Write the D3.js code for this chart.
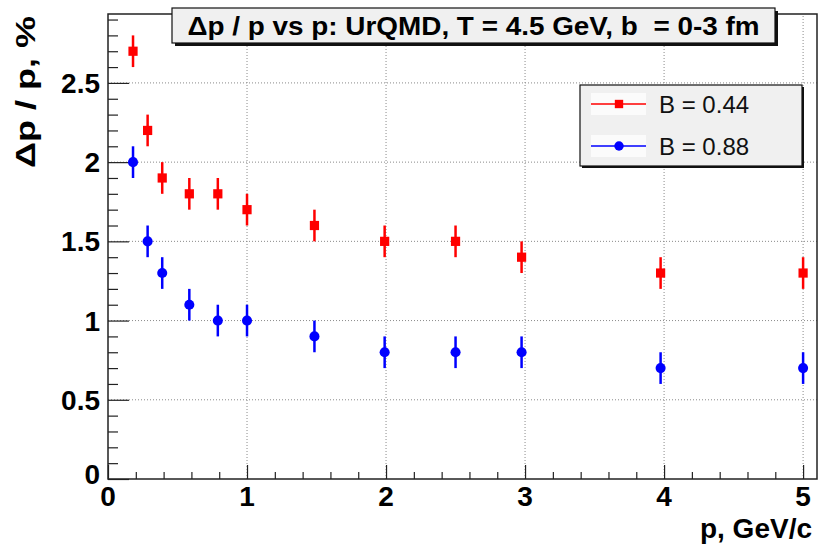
<!DOCTYPE html>
<html>
<head>
<meta charset="utf-8">
<script src="https://cdn.jsdelivr.net/npm/d3@7"></script>
<style>
  html, body { margin: 0; padding: 0; background: #fff; }
  svg { display: block; font-family: "Liberation Sans", Arial, Helvetica, sans-serif; }
  text { white-space: pre; }
</style>
</head>
<body>
<svg id="chart" width="819" height="546"></svg>
<script>
// Momentum points, GeV/c
const momentum = [0.18, 0.285, 0.39, 0.585, 0.79, 1.0, 1.485, 1.99, 2.5, 2.975, 3.975, 5.0];
// Relative momentum resolution, %
const resB044 = [2.7, 2.2, 1.9, 1.8, 1.8, 1.7, 1.6, 1.5, 1.5, 1.4, 1.3, 1.3];
const resB088 = [2.0, 1.5, 1.3, 1.1, 1.0, 1.0, 0.9, 0.8, 0.8, 0.8, 0.7, 0.7];
const errB044 = [0.1, 0.1, 0.1, 0.1, 0.1, 0.1, 0.1, 0.1, 0.1, 0.1, 0.1, 0.1];
const errB088 = [0.1, 0.1, 0.1, 0.1, 0.1, 0.1, 0.1, 0.1, 0.1, 0.1, 0.1, 0.1];
const seriesNames = ["B = 0.44", "B = 0.88"];
const xTickLabels = ["0", "1", "2", "3", "4", "5"];
const yTickLabels = ["0", "0.5", "1", "1.5", "2", "2.5"];
const titleText = "\u0394p / p vs p: UrQMD, T = 4.5 GeV, b  = 0-3 fm";
const xTitle = "p, GeV/c";
const yTitle = "\u0394p / p, %";

const series = [
  { name: seriesNames[0], values: resB044, errors: errB044, color: "#ff0000", marker: "square" },
  { name: seriesNames[1], values: resB088, errors: errB088, color: "#0000ff", marker: "circle" }
];

const svg = d3.select("#chart");
const frame = { left: 108, right: 817, top: 14, bottom: 479 };

const x = d3.scaleLinear().domain([0, 5.1]).range([frame.left, frame.right]);
const y = d3.scaleLinear().domain([0, 2.935]).range([frame.bottom, frame.top]);

const xMajor = xTickLabels.map(Number);
const yMajor = yTickLabels.map(Number);
const xMinor = d3.range(0, 5.1001, 0.2).filter(v => !xMajor.some(m => Math.abs(m - v) < 1e-6));
const yMinor = d3.range(0, 2.9351, 0.1).filter(v => !yMajor.some(m => Math.abs(m - v) < 1e-6));

// dotted grid at the major ticks
const grid = svg.append("g").attr("stroke", "#8a8a8a").attr("stroke-width", 1)
  .attr("stroke-dasharray", "1,2");
grid.selectAll(".gx").data(xMajor.filter(v => v > 0)).join("line")
  .attr("x1", d => x(d)).attr("x2", d => x(d))
  .attr("y1", frame.bottom).attr("y2", frame.top);
grid.selectAll(".gy").data(yMajor.filter(v => v > 0)).join("line")
  .attr("x1", frame.left).attr("x2", frame.right)
  .attr("y1", d => y(d)).attr("y2", d => y(d));

// axes with inward ticks
const xLenMaj = 14, xLenMin = 7, yLenMaj = 21, yLenMin = 10;
const xAxisG = svg.append("g").attr("transform", `translate(0,${frame.bottom})`)
  .call(d3.axisTop(x).tickValues(xMajor).tickSize(xLenMaj).tickFormat(""));
const xMinorG = svg.append("g").attr("transform", `translate(0,${frame.bottom})`)
  .call(d3.axisTop(x).tickValues(xMinor).tickSize(xLenMin).tickFormat(""));
const yAxisG = svg.append("g").attr("transform", `translate(${frame.left},0)`)
  .call(d3.axisRight(y).tickValues(yMajor).tickSize(yLenMaj).tickFormat(""));
const yMinorG = svg.append("g").attr("transform", `translate(${frame.left},0)`)
  .call(d3.axisRight(y).tickValues(yMinor).tickSize(yLenMin).tickFormat(""));
[xAxisG, xMinorG, yAxisG, yMinorG].forEach(g => {
  g.select(".domain").remove();
  g.selectAll("line").attr("stroke", "#222").attr("stroke-width", 1.2);
});

// frame
svg.append("rect")
  .attr("x", frame.left).attr("y", frame.top)
  .attr("width", frame.right - frame.left).attr("height", frame.bottom - frame.top)
  .attr("fill", "none").attr("stroke", "#222").attr("stroke-width", 1.5);

// tick labels
svg.append("g").selectAll("text").data(xTickLabels).join("text")
  .attr("x", d => x(+d)).attr("y", 506)
  .attr("text-anchor", "middle").attr("font-weight", "bold").attr("font-size", 28)
  .attr("fill", "#000").text(d => d);
svg.append("g").selectAll("text").data(yTickLabels).join("text")
  .attr("x", 100).attr("y", d => +d === 0 ? y(+d) + 5 : y(+d) + 10)
  .attr("text-anchor", "end").attr("font-weight", "bold").attr("font-size", 28)
  .attr("fill", "#000").text(d => d);

// axis titles
svg.append("text")
  .attr("x", 812).attr("y", 538)
  .attr("text-anchor", "end").attr("font-weight", "bold").attr("font-size", 28)
  .text(xTitle);
svg.append("text")
  .attr("transform", "translate(35,16) rotate(-90)")
  .attr("text-anchor", "end").attr("font-weight", "bold").attr("font-size", 27)
  .attr("textLength", 152).attr("lengthAdjust", "spacingAndGlyphs")
  .text(yTitle);

// data: error bars and markers
const plot = svg.append("g");
series.forEach(s => {
  const g = plot.append("g");
  g.selectAll("line").data(s.values).join("line")
    .attr("x1", (d, i) => x(momentum[i])).attr("x2", (d, i) => x(momentum[i]))
    .attr("y1", (d, i) => y(d - s.errors[i])).attr("y2", (d, i) => y(d + s.errors[i]))
    .attr("stroke", s.color).attr("stroke-width", 2.5);
  const sym = d3.symbol().type(s.marker === "square" ? d3.symbolSquare : d3.symbolCircle)
    .size(s.marker === "square" ? 85 : 80);
  g.selectAll("path").data(s.values).join("path")
    .attr("transform", (d, i) => `translate(${x(momentum[i])},${y(d)})`)
    .attr("d", sym).attr("fill", s.color);
});

// title box with shadow
const tb = { x: 172, y: 8, w: 603, h: 35 };
svg.append("rect").attr("x", tb.x + 3).attr("y", tb.y + 3).attr("width", tb.w).attr("height", tb.h)
  .attr("fill", "#111");
svg.append("rect").attr("x", tb.x).attr("y", tb.y).attr("width", tb.w).attr("height", tb.h)
  .attr("fill", "#f0f0f0").attr("stroke", "#111").attr("stroke-width", 1.2);
svg.append("text")
  .attr("x", tb.x + tb.w / 2).attr("y", tb.y + 27)
  .attr("text-anchor", "middle").attr("font-weight", "bold").attr("font-size", 25)
  .attr("textLength", 572).attr("lengthAdjust", "spacingAndGlyphs")
  .text(titleText);

// legend
const lg = { x: 580, y: 85, w: 222, h: 81 };
svg.append("rect").attr("x", lg.x + 2).attr("y", lg.y + 2).attr("width", lg.w).attr("height", lg.h)
  .attr("fill", "#111");
svg.append("rect").attr("x", lg.x).attr("y", lg.y).attr("width", lg.w).attr("height", lg.h)
  .attr("fill", "#f0f0f0").attr("stroke", "#111").attr("stroke-width", 1.2);
series.forEach((s, i) => {
  const cy = lg.y + 19 + i * 42;
  const g = svg.append("g");
  g.append("rect").attr("x", 591).attr("y", cy - 11).attr("width", 55).attr("height", 22)
    .attr("fill", "#fbfbfb");
  g.append("line").attr("x1", 591).attr("x2", 646).attr("y1", cy).attr("y2", cy)
    .attr("stroke", s.color).attr("stroke-width", 1.5);
  const sym = d3.symbol().type(s.marker === "square" ? d3.symbolSquare : d3.symbolCircle)
    .size(70);
  g.append("path").attr("transform", `translate(619,${cy})`).attr("d", sym).attr("fill", s.color);
  g.append("text").attr("x", 659).attr("y", cy + 9)
    .attr("font-size", 24).attr("fill", "#111").text(s.name);
});
</script>
</body>
</html>
